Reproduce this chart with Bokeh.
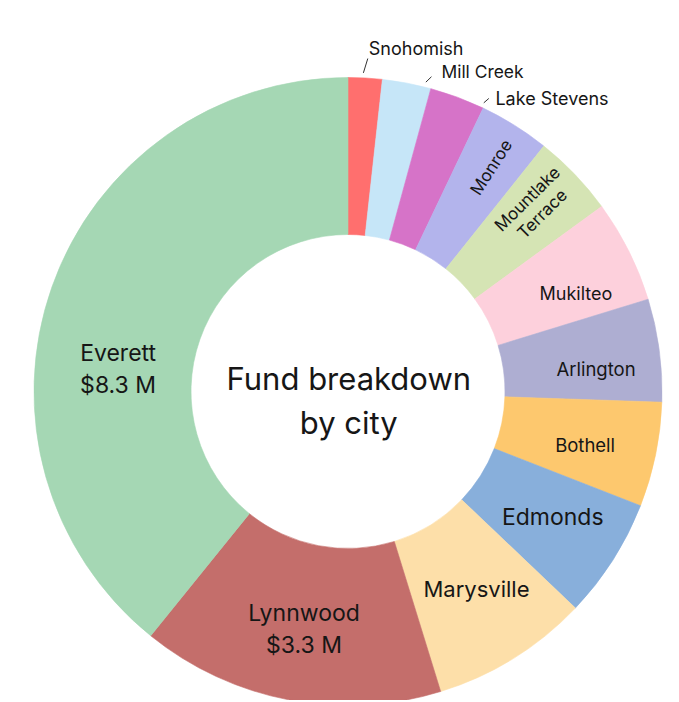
import numpy as np
from bokeh.plotting import figure
from bokeh.models import Range1d, ColumnDataSource
from bokeh.embed import file_html
from bokeh.resources import INLINE
from bokeh.core.properties import value

# ---------------- data ----------------
cities = ["Snohomish", "Mill Creek", "Lake Stevens", "Monroe", "Mountlake Terrace",
          "Mukilteo", "Arlington", "Bothell", "Edmonds", "Marysville", "Lynnwood", "Everett"]
funds_musd = [0.37, 0.53, 0.60, 0.77, 0.90, 1.12, 1.12, 1.14, 1.31, 1.72, 3.3, 8.3]
colors = ["#FF6F6E", "#C6E6F8", "#D673C8", "#B3B4EC", "#D5E4B4", "#FDD0DC",
          "#AEAED2", "#FDC86E", "#88AFDB", "#FDDFA9", "#C46E6B", "#A5D7B4"]
center_title = ["Fund breakdown", "by city"]
show_value = ["Lynnwood", "Everett"]

# ---------------- layout / style ----------------
W, H = 677, 700
CX, CY = 347.5, H - 391.0
R_OUT, R_IN = 314, 157
FONT = "Inter"
TXT = "#161616"

p = figure(width=W, height=H, x_range=Range1d(0, W), y_range=Range1d(0, H),
           output_backend="svg", toolbar_location=None, min_border=0)
p.axis.visible = False
p.grid.visible = False
p.outline_line_color = None
p.background_fill_color = "white"
p.border_fill_color = "white"

vals = np.array(funds_musd, dtype=float)
frac = vals / vals.sum()
cum = np.concatenate([[0.0], np.cumsum(frac)])
th0 = cum[:-1] * 2 * np.pi      # clockwise from 12 o'clock
th1 = cum[1:] * 2 * np.pi
n = len(cities)

src = ColumnDataSource(dict(x=[CX] * n, y=[CY] * n,
                            start=list(np.pi / 2 - th0), end=list(np.pi / 2 - th1),
                            color=colors))
p.annular_wedge(x="x", y="y", inner_radius=R_IN, outer_radius=R_OUT,
                start_angle="start", end_angle="end", direction="clock",
                fill_color="color", line_color="color", line_width=0.6, source=src)

# ---------------- inside labels ----------------
# per-label placement: radius, angular offset (deg), font size, rotated?
inside = {
    "Monroe":            (266, 0.5, 17, True),
    "Mountlake Terrace": (263, -1.0, 17, True),
    "Mukilteo":          (248, 3.4, 18, False),
    "Arlington":         (249, 2.4, 18.5, False),
    "Bothell":           (243, 1.0, 18.5, False),
    "Edmonds":           (240, -1.0, 23, False),
    "Marysville":        (236, -1.2, 22, False),
    "Lynnwood":          (242, -0.4, 23, False),
    "Everett":           (231, -13.9, 23, False),
}
for i, c in enumerate(cities):
    if c not in inside:
        continue
    r, off, fs, rot = inside[c]
    mid = (th0[i] + th1[i]) / 2 + np.radians(off)
    x = CX + r * np.sin(mid)
    y = CY + r * np.cos(mid)
    style = dict(text_align="center", text_baseline="middle", text_font=value(FONT),
                 text_font_size=f"{fs}px", text_color=TXT)
    if c in show_value:
        p.text(x=[x, x], y=[y + 16, y - 16],
               text=[c, f"${funds_musd[i]:.1f} M"], **style)
        continue
    if c == "Mountlake Terrace":
        txt = "Mountlake\nTerrace"
        lh = 1.05
    else:
        txt = c
        lh = 1.2
    ang = (np.pi / 2 - mid) if rot else 0.0
    p.text(x=[x], y=[y], text=[txt], angle=ang, text_line_height=lh, **style)

# ---------------- outside labels with leaders ----------------
outside = {
    # frac within slice, leader length, leader direction (deg cw from up), text dx, dy, size
    "Snohomish":    (0.44, 15.0, 17, 1.0, 10.3, 18),
    "Mill Creek":   (0.87, 7.8, 46, 10.0, 5.6, 17.4),
    "Lake Stevens": (0.97, 6.7, 49, 6.6, 0.0, 18),
}
for i, c in enumerate(cities):
    if c not in outside:
        continue
    f, L, d, dx, dy, fs = outside[c]
    a = th0[i] + f * (th1[i] - th0[i])
    x0 = CX + 319 * np.sin(a)
    y0 = CY + 319 * np.cos(a)
    x1 = x0 + L * np.sin(np.radians(d))
    y1 = y0 + L * np.cos(np.radians(d))
    p.line(x=[x0, x1], y=[y0, y1], line_color="#333333", line_width=1)
    p.text(x=[x1 + dx], y=[y1 + dy], text=[c], text_align="left",
           text_baseline="middle", text_font=value(FONT),
           text_font_size=f"{fs}px", text_color=TXT)

# ---------------- centre title ----------------
p.text(x=[CX + 0.8, CX + 0.8], y=[H - 378, H - 422],
       text=center_title, text_align="center", text_baseline="middle",
       text_font=value(FONT), text_font_size="31px", text_color=TXT)

open("out.html", "w").write(file_html(p, INLINE))
